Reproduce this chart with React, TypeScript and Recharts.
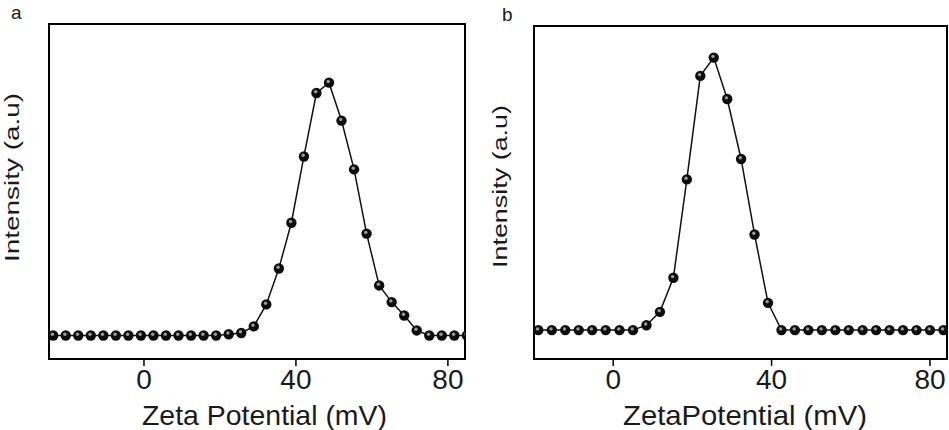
import React from "react";
import {
  Line,
  LineChart,
  ReferenceArea,
  XAxis,
  YAxis,
} from "recharts";

// panel a: zeta potential (mV) and intensity (a.u.)
const zetaA = [
  -23.9, -20.6, -17.3, -14.0, -10.7, -7.4, -4.1, -0.8, 2.5, 5.8, 9.1, 12.4,
  15.7, 19.0, 22.3, 25.6, 28.9, 32.2, 35.5, 38.8, 42.1, 45.4, 48.7, 52.0,
  55.3, 58.6, 61.9, 65.2, 68.5, 71.8, 75.1, 78.4, 81.7, 85.0,
];
const intensityA = [
  0, 0, 0, 0, 0, 0, 0, 0, 0, 0, 0, 0, 0, 0, 0.5, 1, 3.6, 12.3, 26.5, 44.6,
  70.8, 95.9, 100, 85.0, 65.7, 40.3, 19.8, 13.2, 7.9, 2.0, 0, 0, 0, 0,
];

// panel b
const zetaB = [
  -18.9, -15.5, -12.1, -8.7, -5.3, -1.9, 1.6, 5.0, 8.4, 11.8, 15.2, 18.6,
  22.0, 25.4, 28.8, 32.3, 35.7, 39.1, 42.5, 45.9, 49.3, 52.7, 56.1, 59.5,
  63.0, 66.4, 69.8, 73.2, 76.6, 80.0, 83.4,
];
const intensityB = [
  0, 0, 0, 0, 0, 0, 0, 0, 1.8, 6.7, 19.2, 55.3, 93.3, 100, 84.8, 62.8, 35.1,
  10.0, 0, 0, 0, 0, 0, 0, 0, 0, 0, 0, 0, 0, 0,
];

const xTicks = [0, 40, 80];

const dataA = zetaA.map((z, i) => ({ zeta: z, intensity: intensityA[i] }));
const dataB = zetaB.map((z, i) => ({ zeta: z, intensity: intensityB[i] }));

const FONT = '"Liberation Sans", Arial, sans-serif';

function Dot(props: any) {
  const { cx, cy } = props;
  if (cx == null || cy == null) return null;
  return (
    <g>
      <circle cx={cx} cy={cy} r={5.2} fill="#0d0d0d" />
      <circle cx={cx - 0.8} cy={cy - 1.2} r={1.7} fill="#9c9c9c" />
    </g>
  );
}

function xTitle(text: string, dx: number, len: number) {
  return (p: any) => {
    const vb = p.viewBox;
    return (
      <text
        x={vb.x + vb.width / 2 + dx}
        y={425}
        textAnchor="middle"
        fontFamily={FONT}
        fontSize={28}
        fill="#1a1a1a"
        textLength={len}
        lengthAdjust="spacingAndGlyphs"
      >
        {text}
      </text>
    );
  };
}

function yTitle(x: number, y: number, len: number) {
  return () => (
    <text
      x={x}
      y={y}
      transform={`rotate(-90 ${x} ${y})`}
      textAnchor="middle"
      fontFamily={FONT}
      fontSize={20}
      fill="#1a1a1a"
      textLength={len}
      lengthAdjust="spacingAndGlyphs"
    >
      Intensity (a.u)
    </text>
  );
}

function Panel({
  data,
  width,
  left,
  top,
  right,
  yWidth,
  xDomain,
  yDomain,
  title,
  titleDx,
  titleLen,
  yLabelX,
  yLabelY,
  yLabelLen,
}: {
  data: { zeta: number; intensity: number }[];
  width: number;
  left: number;
  top: number;
  right: number;
  yWidth: number;
  xDomain: [number, number];
  yDomain: [number, number];
  title: string;
  titleDx: number;
  titleLen: number;
  yLabelX: number;
  yLabelY: number;
  yLabelLen: number;
}) {
  return (
    <div style={{ position: "absolute", left, top: 0 }}>
      <LineChart
        width={width}
        height={430}
        data={data}
        margin={{ top, right, bottom: 0, left: 0 }}
      >
        <XAxis
          type="number"
          dataKey="zeta"
          domain={xDomain}
          ticks={xTicks}
          allowDataOverflow
          height={71}
          tickSize={7}
          tickMargin={3}
          tickLine={{ stroke: "#000", strokeWidth: 1.5 }}
          axisLine={{ stroke: "#000", strokeWidth: 2 }}
          tick={{ fill: "#1a1a1a", fontSize: 28, fontFamily: FONT }}
          label={{ content: xTitle(title, titleDx, titleLen) }}
        />
        <YAxis
          type="number"
          domain={yDomain}
          allowDataOverflow
          width={yWidth}
          tick={false}
          tickLine={false}
          axisLine={false}
          label={{ content: yTitle(yLabelX, yLabelY, yLabelLen) }}
        />
        <ReferenceArea
          x1={xDomain[0]}
          x2={xDomain[1]}
          y1={yDomain[0]}
          y2={yDomain[1]}
          fill="none"
          stroke="#000"
          strokeWidth={2}
          ifOverflow="visible"
        />
        <Line
          type="linear"
          dataKey="intensity"
          stroke="#111"
          strokeWidth={1.5}
          dot={<Dot />}
          activeDot={false}
          isAnimationActive={false}
        />
      </LineChart>
    </div>
  );
}

export default function App() {
  return (
    <div
      style={{
        position: "absolute",
        left: 0,
        top: 0,
        width: 949,
        height: 430,
        background: "#fff",
        overflow: "hidden",
        fontFamily: FONT,
      }}
    >
      <Panel
        data={dataA}
        width={470}
        left={0}
        top={24}
        right={5}
        yWidth={49}
        xDomain={[-25, 84.5]}
        yDomain={[-9.3, 123.2]}
        title="Zeta Potential (mV)"
        titleDx={7.5}
        titleLen={245}
        yLabelX={19}
        yLabelY={177.5}
        yLabelLen={169}
      />
      <Panel
        data={dataB}
        width={469}
        left={480}
        top={26}
        right={2}
        yWidth={54}
        xDomain={[-20, 84.3]}
        yDomain={[-10.6, 111.6]}
        title="ZetaPotential (mV)"
        titleDx={4.5}
        titleLen={244}
        yLabelX={27}
        yLabelY={186.5}
        yLabelLen={163}
      />
      <div
        style={{
          position: "absolute",
          left: 11,
          top: 2,
          fontSize: 19,
          color: "#1a1a1a",
        }}
      >
        a
      </div>
      <div
        style={{
          position: "absolute",
          left: 502,
          top: 4,
          fontSize: 19,
          color: "#1a1a1a",
        }}
      >
        b
      </div>
    </div>
  );
}
